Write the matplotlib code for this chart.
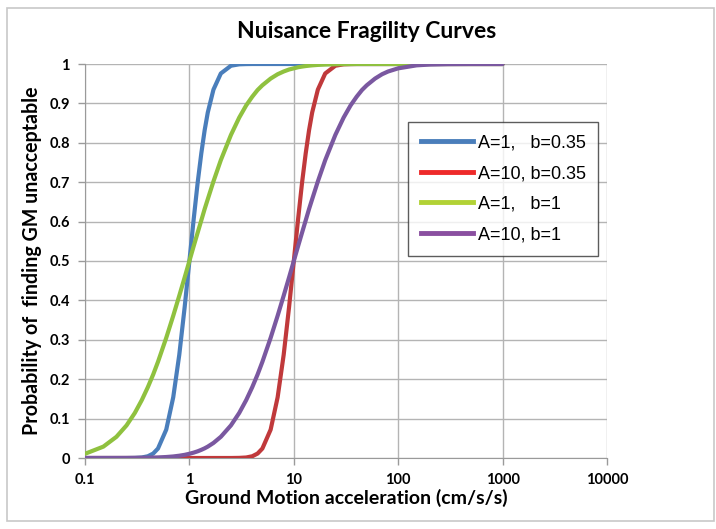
import matplotlib
matplotlib.use("Agg")
import matplotlib.pyplot as plt
from matplotlib.patches import Rectangle
from matplotlib.lines import Line2D

# ground motion values (cm/s/s) where the curves were read
accel = [0.1, 0.15, 0.2, 0.25, 0.3, 0.35, 0.4, 0.45, 0.5,
         0.6, 0.7, 0.8, 0.9, 1,
         1.1, 1.2, 1.3, 1.4, 1.5, 1.7,
         2, 2.5, 3, 3.5, 4, 4.5, 5,
         6, 7, 8, 9, 10,
         11, 12, 13, 14, 15, 17,
         20, 25, 30, 35, 40, 45, 50,
         60, 70, 80, 100,
         150, 200, 300, 500, 1000]

p_a1_b035 = [0, 0, 0, 0, 0.0003, 0.0013, 0.0044, 0.0113, 0.024,
             0.072, 0.154, 0.262, 0.382, 0.5,
             0.607, 0.699, 0.773, 0.832, 0.877, 0.935,
             0.976, 0.9956, 0.9992, 0.9998, 1, 1, 1,
             1, 1, 1, 1, 1,
             1, 1, 1, 1, 1, 1,
             1, 1, 1, 1, 1, 1, 1,
             1, 1, 1, 1,
             1, 1, 1, 1, 1]
p_a10_b035 = [0, 0, 0, 0, 0, 0, 0, 0, 0,
              0, 0, 0, 0, 0,
              0, 0, 0, 0, 0, 0,
              0, 0, 0.0003, 0.0013, 0.0044, 0.0113, 0.024,
              0.072, 0.154, 0.262, 0.382, 0.5,
              0.607, 0.699, 0.773, 0.832, 0.877, 0.935,
              0.976, 0.9956, 0.9992, 0.9998, 1, 1, 1,
              1, 1, 1, 1,
              1, 1, 1, 1, 1]
p_a1_b1 = [0.0107, 0.0289, 0.0538, 0.0828, 0.1143, 0.147, 0.1798, 0.212, 0.244,
           0.305, 0.361, 0.412, 0.458, 0.5,
           0.538, 0.572, 0.603, 0.632, 0.657, 0.702,
           0.756, 0.820, 0.864, 0.895, 0.917, 0.934, 0.946,
           0.963, 0.974, 0.981, 0.986, 0.989,
           0.9918, 0.9935, 0.9948, 0.9958, 0.9966, 0.9977,
           0.9986, 0.9994, 0.9997, 0.9998, 1, 1, 1,
           1, 1, 1, 1,
           1, 1, 1, 1, 1]
p_a10_b1 = [0, 0.00001, 0.00005, 0.0001, 0.0002, 0.0004, 0.0006, 0.001, 0.0014,
            0.0025, 0.0039, 0.0058, 0.008, 0.0107,
            0.0137, 0.017, 0.0207, 0.0246, 0.0289, 0.0382,
            0.0538, 0.0828, 0.1143, 0.147, 0.1798, 0.212, 0.244,
            0.305, 0.361, 0.412, 0.458, 0.5,
            0.538, 0.572, 0.603, 0.632, 0.657, 0.702,
            0.756, 0.820, 0.864, 0.895, 0.917, 0.934, 0.946,
            0.963, 0.974, 0.981, 0.989,
            0.9966, 0.9986, 0.9997, 1, 1]

labels = ["A=1,   b=0.35", "A=10, b=0.35", "A=1,   b=1", "A=10, b=1"]
line_colors = ["#4a7ebb", "#c0393b", "#8fc13f", "#7a58a0"]
legend_colors = ["#4a7ebb", "#ee2a2a", "#b2d235", "#8a4fa0"]

xticks = [0.1, 1, 10, 100, 1000, 10000]
xticklabels = ["0.1", "1", "10", "100", "1000", "10000"]
yticks = [0, 0.1, 0.2, 0.3, 0.4, 0.5, 0.6, 0.7, 0.8, 0.9, 1]
yticklabels = ["0", "0.1", "0.2", "0.3", "0.4", "0.5", "0.6", "0.7", "0.8", "0.9", "1"]

fig = plt.figure(figsize=(7.16, 5.29), dpi=100)
fig.patches.append(Rectangle((7 / 716, 1 - 521 / 529), 707 / 716, 513 / 529,
                             transform=fig.transFigure, fill=False,
                             edgecolor="#c8c8c8", linewidth=1.2))

ax = fig.add_axes([85 / 716, 1 - 458 / 529, 522 / 716, 394 / 529])

for ys, c in zip([p_a1_b035, p_a10_b035, p_a1_b1, p_a10_b1], line_colors):
    ax.plot(accel, ys, color=c, linewidth=3, solid_capstyle="round",
            solid_joinstyle="round", zorder=3)

ax.set_xscale("log")
ax.set_xlim(0.1, 10000)
ax.set_ylim(0, 1)
ax.set_xticks(xticks)
ax.set_xticklabels(xticklabels)
ax.minorticks_off()
ax.set_yticks(yticks)
ax.set_yticklabels(yticklabels)
ax.grid(True, color="#b4b4b4", linewidth=1)
ax.set_axisbelow(True)
for s in ["top", "right"]:
    ax.spines[s].set_visible(False)
for s in ["left", "bottom"]:
    ax.spines[s].set_color("#9a9a9a")
ax.tick_params(axis="both", length=5, color="#9a9a9a", width=1, pad=6)
for lab in ax.get_xticklabels() + ax.get_yticklabels():
    lab.set_fontfamily("Lato")
    lab.set_fontweight("bold")
    lab.set_fontsize(10.5)

fig.text(367 / 716, 1 - 32 / 529, "Nuisance Fragility Curves", fontfamily="Lato",
         fontweight="bold", fontsize=16.5, ha="center", va="center")
fig.text(346 / 716, 1 - 498 / 529, "Ground Motion acceleration (cm/s/s)",
         fontfamily="Lato", fontweight="bold", fontsize=14,
         ha="center", va="center")
fig.text(32 / 716, 1 - 261 / 529, "Probability of  finding GM unacceptable",
         fontfamily="Lato", fontweight="bold", fontsize=14.1, rotation=90,
         ha="center", va="center")

handles = [Line2D([], [], color=c, linewidth=3.5) for c in legend_colors]
leg = ax.legend(handles, labels, loc="upper left",
                bbox_to_anchor=((408 - 85) / 522, (458 - 122) / 394),
                prop={"family": "Liberation Sans", "size": 13},
                frameon=True, fancybox=False, edgecolor="#333333",
                handlelength=2.9, handletextpad=0.25, borderpad=0.7,
                labelspacing=0.75, borderaxespad=0)
leg.get_frame().set_linewidth(1)

fig.savefig("out.png", dpi=100)
